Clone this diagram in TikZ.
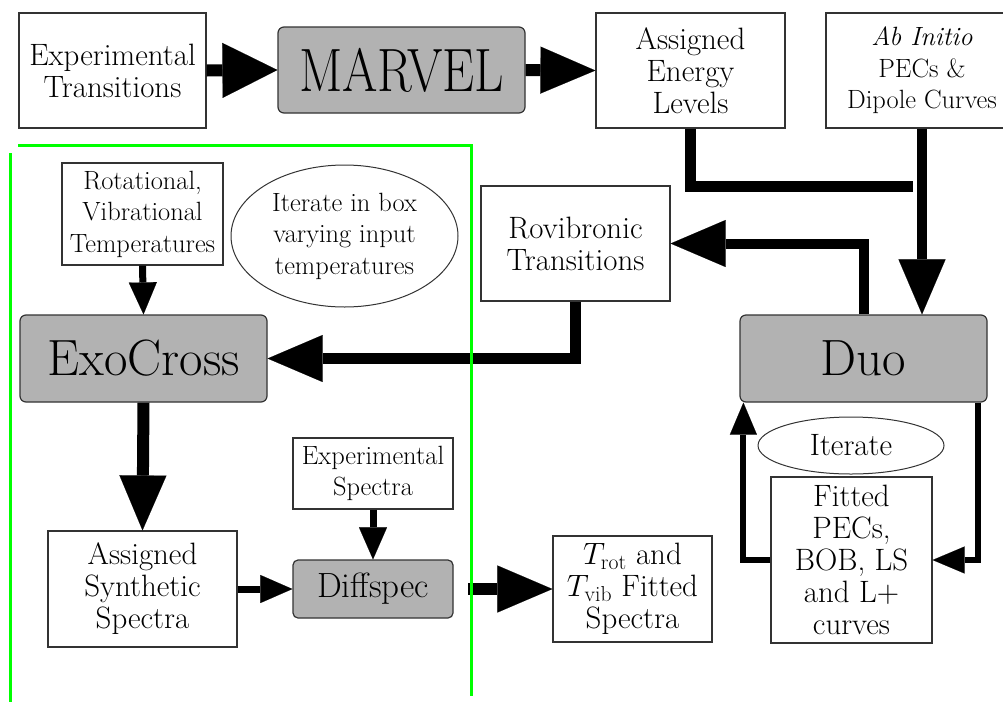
\RequirePackage{fix-cm}
\documentclass[tikz,border=0pt]{standalone}
\usepackage{fontspec}
\usepackage{graphicx}
\usetikzlibrary{arrows.meta,shapes.geometric}
\definecolor{framegreen}{RGB}{0,255,0}
\tikzset{
    x=1pt, y=-1pt, % coordinates are read as pixels of the figure, y going down
    }

\begin{document}
\begin{tikzpicture}[
plainbox/.style={rectangle, draw=black!80, line width=1.2pt, fill=white, align=center, inner sep=0pt, font=\fontsize{30.9}{32}\selectfont},
smallbox/.style={plainbox, font=\fontsize{26.4}{31.5}\selectfont},
progbox/.style={plainbox, rounded corners=6pt, fill=black!30, font=\fontsize{51}{60}\selectfont},
notenode/.style={ellipse, draw=black!80, line width=1pt, align=center, inner sep=0pt},
bigarrow/.style={line width=12pt, -{Triangle[length=55pt,width=47pt,line width=0.1pt]}},
smallarrow/.style={line width=7pt, -{Triangle[length=32pt,width=28pt,line width=0.1pt]}},
looparrow/.style={line width=6pt, -{Triangle[length=32pt,width=27pt,line width=0.1pt]}},
frameline/.style={draw=framegreen, line width=3pt},
]
\useasboundingbox (0,0) rectangle (1003,702);

% top row
\node[plainbox, minimum width=187pt, minimum height=115pt] (exptrans) at (112.5,70.5) {Experimental\\Transitions};
\node[progbox, minimum width=247pt, minimum height=86pt] (marvel) at (401.5,70) {\scalebox{1}[1.2]{MARVEL}};
\node[plainbox, minimum width=189pt, minimum height=115pt] (energy) at (690.5,70.5) {Assigned\\Energy\\Levels};
\node[smallbox, minimum width=192pt, minimum height=115pt] (abinitio) at (922,70.5) {\textit{Ab Initio}\\PECs \&\\Dipole Curves};

% middle row
\node[smallbox, minimum width=161pt, minimum height=102pt] (rottemp) at (142.5,214) {Rotational,\\Vibrational\\Temperatures};
\node[notenode, font=\fontsize{26.4}{31.5}\selectfont, minimum width=227pt, minimum height=142pt] (iterbox) at (344.5,236) {Iterate in box\\varying input\\temperatures};
\node[plainbox, minimum width=189pt, minimum height=115pt] (rovib) at (575.5,243.5) {Rovibronic\\Transitions};
\node[progbox, minimum width=247pt, minimum height=87pt] (exocross) at (143.5,358.5) {ExoCross};
\node[progbox, minimum width=247pt, minimum height=87pt] (duo) at (863.5,358.5) {Duo};

% bottom row
\node[smallbox, minimum width=160pt, minimum height=71pt] (expspec) at (373,473.5) {Experimental\\Spectra};
\node[plainbox, minimum width=189pt, minimum height=116pt] (synth) at (142.5,589) {Assigned\\Synthetic\\Spectra};
\node[progbox, rounded corners=5pt, font=\fontsize{35}{40}\selectfont, minimum width=160pt, minimum height=58pt] (diffspec) at (373,589) {Diffspec};
\node[plainbox, minimum width=159pt, minimum height=106pt] (tfit) at (632.5,589) {$T_{\mathrm{rot}}$ and\\$T_{\mathrm{vib}}$ Fitted\\Spectra};
\node[notenode, font=\fontsize{30.9}{32}\selectfont, minimum width=186pt, minimum height=57pt] (iterate) at (851,445.5) {Iterate};
\node[plainbox, minimum width=161pt, minimum height=166pt] (fitted) at (851.5,560) {Fitted\\PECs,\\BOB, LS\\and L+\\curves};

\coordinate (levelsend) at (913,186);
\coordinate (framegap) at (468,589);

\draw[bigarrow, -{Triangle[length=55pt,width=55pt,line width=0.1pt]}] (exptrans.east) -- (marvel.west);
\draw[bigarrow] (marvel.east) -- (energy.west);
\draw[line width=11pt] (energy.south) |- (levelsend);
\draw[bigarrow, line width=10pt] (abinitio.south) -- (abinitio.south |- duo.north);
\draw[bigarrow, line width=10pt] (duo.north) |- (rovib.east);
\draw[bigarrow, line width=11pt] (rovib.south) |- (exocross.east);
\draw[smallarrow] (rottemp.south) -- (exocross.north);
\draw[bigarrow] (exocross.south) -- (synth.north);
\draw[smallarrow] (synth.east) -- (diffspec.west);
\draw[smallarrow] (expspec.south) -- (diffspec.north);
\draw[bigarrow] (framegap) -- (tfit.west);
\draw[looparrow] ([xshift=-10pt]duo.south east) |- (fitted.east);
\draw[looparrow] (fitted.west) -| ([xshift=4pt]duo.south west);

% box round the ExoCross loop
\draw[frameline] (18,145) -- (471,145) -- (471,696);
\draw[frameline] (10,153) -- (10,702);
\end{tikzpicture}
\end{document}
